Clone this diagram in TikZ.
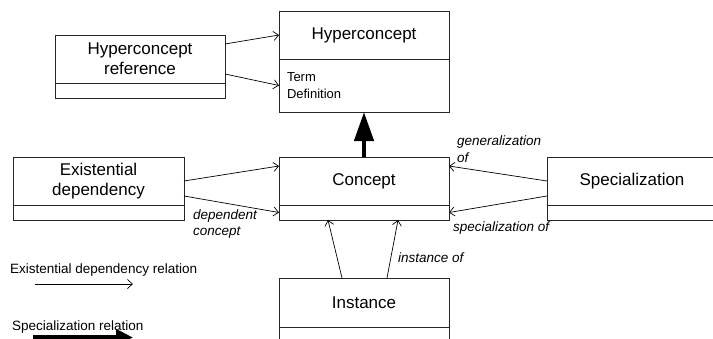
\documentclass[tikz,border=0pt]{standalone}
\usepackage{fontspec}
\setmainfont{Liberation Sans}
\usetikzlibrary{arrows.meta,positioning}
\tikzstyle{classbox} = [shape=rectangle,draw=black!85,line width=0.8pt,inner sep=0pt,outer sep=0pt,minimum width=170pt,minimum height=48pt,align=center,font=\fontsize{17}{20}\selectfont]
\tikzstyle{attrbox} = [shape=rectangle,draw=black!85,line width=0.8pt,inner sep=0pt,outer sep=0pt,minimum width=170pt,minimum height=15pt]
\tikzstyle{role} = [inner sep=0pt,anchor=west,align=left,font=\fontsize{13.5}{16.5}\selectfont\itshape]
\tikzstyle{legend} = [inner sep=0pt,anchor=west,font=\fontsize{13.5}{16}\selectfont]
\tikzstyle{dep} = [line width=0.7pt,-{Straight Barb[length=5pt,width=9pt,line width=0.7pt]}]
\tikzstyle{spec} = [line width=4.5pt,-{Triangle[length=29pt,width=19pt]}]

\begin{document}
\begin{tikzpicture}[x=1pt,y=-1pt]
    \useasboundingbox (0,0) rectangle (713,338);
    % create the nodes
    \node (hyper)[classbox] at (364,35) {Hyperconcept};
    \node (hyperattr)[attrbox, below=0pt of hyper, minimum height=53pt, text width=154pt, inner xsep=8pt, align=left, font=\fontsize{13}{16.5}\selectfont]{Term\\Definition};
    \node (hyperref)[classbox] at (140,59) {Hyperconcept\\reference};
    \node (hyperrefattr)[attrbox, below=0pt of hyperref]{};
    \node (exist)[classbox, minimum width=171pt] at (98.5,181) {Existential\\dependency};
    \node (existattr)[attrbox, minimum width=171pt, below=0pt of exist]{};
    \node (concept)[classbox] at (364,181) {Concept};
    \node (conceptattr)[attrbox, below=0pt of concept]{};
    \node (spec)[classbox] at (632,181) {Specialization};
    \node (specattr)[attrbox, below=0pt of spec]{};
    \node (inst)[classbox, minimum height=49pt] at (364,302.5) {Instance};
    \node (instattr)[attrbox, below=0pt of inst]{};
    % role names
    \node (lbldep)[role] at (193,224) {dependent\\concept};
    \node (lblgen)[role] at (457,149) {generalization\\of};
    \node (lblspec)[role] at (453,228) {specialization of};
    \node (lblinst)[role] at (398,258) {instance of};
    % legend
    \node (legdep)[legend] at (10,270) {Existential dependency relation};
    \node (legspec)[legend] at (12,327) {Specialization relation};
    \coordinate (legdepa) at (35,284);
    \coordinate (legdepb) at (133,284);
    \coordinate (legspeca) at (33,337.5);
    \coordinate (legspecb) at (133,337.5);
    % connect the nodes
    \draw[dep] ([yshift=15pt]hyperref.east) to (hyper.west);
    \draw[dep] ([yshift=-15pt]hyperref.east) to (hyperattr.west);
    \draw[dep] (exist.east) to ([yshift=15pt]concept.west);
    \draw[dep] ([yshift=-15pt]exist.east) to (conceptattr.west);
    \draw[dep] (spec.west) to ([yshift=15pt]concept.east);
    \draw[dep] ([yshift=-15pt]spec.west) to (conceptattr.east);
    \draw[dep] ([xshift=-22pt]inst.north) to ([xshift=-36pt]conceptattr.south);
    \draw[dep] ([xshift=23pt]inst.north) to ([xshift=34pt]conceptattr.south);
    \draw[spec] (concept.north) to (hyperattr.south);
    \draw[dep] (legdepa) to (legdepb);
    \draw[spec, -{Triangle[length=17pt,width=16pt]}] (legspeca) to (legspecb);
\end{tikzpicture}
\end{document}
